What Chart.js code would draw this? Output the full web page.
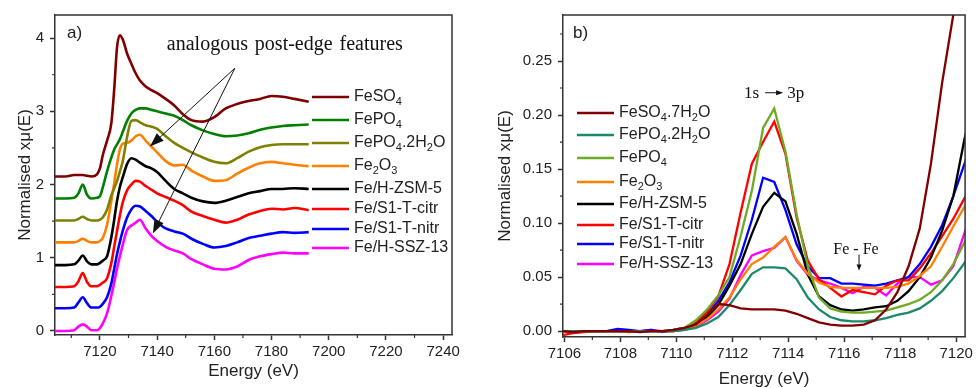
<!DOCTYPE html>
<html>
<head>
<meta charset="utf-8">
<script src="https://cdn.jsdelivr.net/npm/chart.js@4.4.0/dist/chart.umd.min.js"></script>
<style>
  html, body { margin: 0; padding: 0; background: #fff; }
  #wrap { position: relative; width: 976px; height: 388px; overflow: hidden; }
  #chartA { position: absolute; left: 0; top: 0; }
  #chartB { position: absolute; left: 480px; top: 0; }
</style>
</head>
<body>
<div id="wrap">
  <canvas id="chartA" width="480" height="388"></canvas>
  <canvas id="chartB" width="496" height="388"></canvas>
</div>
<script>
// ---- panel a) : full XANES spectra, offset for clarity ----
const energyA = [7104, 7108, 7111, 7112.5, 7114, 7115.5, 7117, 7119, 7120, 7121, 7122.5, 7124, 7125, 7126, 7127, 7128, 7129.5, 7131, 7132.5, 7134,
                 7136, 7138, 7140, 7143, 7146, 7149, 7152, 7156, 7160, 7164, 7168, 7172, 7176, 7180, 7184, 7188, 7193];
const feso4A    = [2.11, 2.11, 2.13, 2.13, 2.13, 2.12, 2.11, 2.14, 2.22, 2.40, 2.60, 2.84, 3.30, 3.88, 4.04, 3.98, 3.79, 3.65, 3.52, 3.42,
                   3.34, 3.29, 3.25, 3.17, 3.08, 2.96, 2.88, 2.86, 2.92, 3.04, 3.10, 3.14, 3.17, 3.21, 3.20, 3.17, 3.13];
const fepo4A    = [1.81, 1.81, 1.82, 1.88, 2.00, 1.86, 1.81, 1.82, 1.84, 1.96, 2.18, 2.37, 2.48, 2.55, 2.62, 2.72, 2.87, 2.97, 3.02, 3.04,
                   3.04, 3.02, 3.00, 2.97, 2.94, 2.88, 2.81, 2.74, 2.69, 2.66, 2.67, 2.70, 2.75, 2.78, 2.80, 2.81, 2.82];
const fepo4h2oA = [1.51, 1.51, 1.51, 1.53, 1.56, 1.53, 1.51, 1.51, 1.52, 1.55, 1.66, 1.85, 1.95, 2.05, 2.18, 2.32, 2.65, 2.87, 2.88, 2.85,
                   2.81, 2.79, 2.76, 2.66, 2.57, 2.50, 2.44, 2.37, 2.31, 2.29, 2.36, 2.45, 2.51, 2.54, 2.55, 2.55, 2.55];
const fe2o3A    = [1.21, 1.21, 1.21, 1.23, 1.26, 1.23, 1.21, 1.21, 1.23, 1.27, 1.45, 1.78, 2.02, 2.28, 2.48, 2.56, 2.57, 2.60, 2.66, 2.68,
                   2.60, 2.52, 2.44, 2.32, 2.26, 2.27, 2.19, 2.11, 2.05, 2.06, 2.15, 2.23, 2.29, 2.31, 2.29, 2.27, 2.25];
const zsm5A     = [0.90, 0.90, 0.91, 0.96, 1.03, 0.95, 0.91, 0.91, 0.93, 0.96, 1.02, 1.28, 1.52, 1.78, 1.97, 2.10, 2.28, 2.36, 2.34, 2.30,
                   2.25, 2.22, 2.17, 2.05, 1.94, 1.88, 1.82, 1.77, 1.75, 1.78, 1.83, 1.88, 1.91, 1.94, 1.94, 1.95, 1.94];
const citrA     = [0.60, 0.60, 0.61, 0.68, 0.79, 0.67, 0.61, 0.61, 0.63, 0.66, 0.72, 0.93, 1.15, 1.37, 1.58, 1.76, 1.92, 2.00, 2.05, 2.04,
                   1.98, 1.93, 1.88, 1.83, 1.78, 1.72, 1.63, 1.57, 1.52, 1.48, 1.52, 1.59, 1.64, 1.67, 1.66, 1.68, 1.65];
const nitrA     = [0.31, 0.31, 0.32, 0.39, 0.46, 0.38, 0.32, 0.32, 0.33, 0.37, 0.46, 0.65, 0.85, 1.05, 1.22, 1.37, 1.55, 1.66, 1.71, 1.70,
                   1.64, 1.57, 1.49, 1.40, 1.36, 1.33, 1.26, 1.19, 1.14, 1.16, 1.21, 1.27, 1.30, 1.33, 1.35, 1.34, 1.35];
const ssz13A    = [0.00, 0.00, 0.01, 0.06, 0.09, 0.06, 0.01, 0.01, 0.04, 0.10, 0.24, 0.48, 0.66, 0.85, 1.02, 1.18, 1.38, 1.44, 1.48, 1.52,
                   1.40, 1.30, 1.23, 1.15, 1.10, 1.06, 0.98, 0.91, 0.85, 0.84, 0.88, 0.97, 1.02, 1.05, 1.07, 1.06, 1.06];
const namesA  = ['FeSO_4', 'FePO_4', 'FePO_4.2H_2O', 'Fe_2O_3', 'Fe/H-ZSM-5', 'Fe/S1-T-citr', 'Fe/S1-T-nitr', 'Fe/H-SSZ-13'];
const colorsA = ['#800000', '#008000', '#808000', '#ff8000', '#000000', '#ff0000', '#0000ff', '#ff00ff'];
const ticksXA = [7120, 7140, 7160, 7180, 7200, 7220, 7240];
const minorXA = [7110, 7130, 7150, 7170, 7190, 7210, 7230];
const ticksYA = [0, 1, 2, 3, 4];
const minorYA = [0.5, 1.5, 2.5, 3.5];

// ---- panel b) : pre-edge region ----
const energyB = [7105.9, 7106.3, 7106.7, 7107.1, 7107.5, 7107.9, 7108.3, 7108.7, 7109.1, 7109.5, 7109.9, 7110.3, 7110.7, 7111.1, 7111.5, 7111.9,
                 7112.3, 7112.7, 7113.1, 7113.5, 7113.9, 7114.3, 7114.7, 7115.1, 7115.5, 7115.9, 7116.3, 7116.7, 7117.1, 7117.5, 7117.9,
                 7118.3, 7118.7, 7119.1, 7119.5, 7119.9, 7120.3, 7120.7];
const feso4B    = [0.000, -0.001, 0.000, 0.000, 0.000, 0.000, 0.000, -0.001, 0.000, 0.000, 0.001, 0.003, 0.006, 0.015, 0.025, 0.024,
                   0.021, 0.020, 0.020, 0.020, 0.019, 0.016, 0.012, 0.008, 0.006, 0.005, 0.005, 0.006, 0.010, 0.020, 0.036,
                   0.060, 0.095, 0.155, 0.230, 0.293, 0.360, 0.420];
const fepo4h2oB = [0.000, 0.000, 0.000, 0.000, 0.000, 0.000, 0.000, 0.000, 0.000, 0.000, 0.000, 0.001, 0.003, 0.007, 0.013, 0.024,
                   0.038, 0.053, 0.059, 0.059, 0.058, 0.048, 0.031, 0.020, 0.013, 0.010, 0.009, 0.009, 0.010, 0.012, 0.015,
                   0.017, 0.021, 0.028, 0.037, 0.049, 0.063, 0.075];
const fepo4B    = [0.000, 0.000, 0.000, 0.000, 0.000, 0.000, 0.000, 0.000, 0.000, 0.000, 0.001, 0.003, 0.010, 0.020, 0.033, 0.050,
                   0.088, 0.130, 0.188, 0.206, 0.166, 0.108, 0.060, 0.031, 0.021, 0.018, 0.017, 0.017, 0.018, 0.019, 0.022,
                   0.025, 0.029, 0.036, 0.047, 0.062, 0.082, 0.100];
const fe2o3B    = [0.000, 0.000, 0.000, 0.000, 0.000, 0.000, 0.000, 0.000, 0.000, 0.000, 0.000, 0.002, 0.005, 0.011, 0.020, 0.031,
                   0.048, 0.062, 0.068, 0.078, 0.087, 0.066, 0.053, 0.045, 0.041, 0.040, 0.040, 0.040, 0.040, 0.040, 0.041,
                   0.044, 0.051, 0.060, 0.078, 0.097, 0.115, 0.135];
const zsm5B     = [0.000, 0.000, 0.000, 0.000, 0.000, 0.000, 0.000, 0.000, 0.000, 0.000, 0.000, 0.002, 0.006, 0.013, 0.024, 0.042,
                   0.062, 0.090, 0.115, 0.128, 0.120, 0.090, 0.052, 0.032, 0.024, 0.020, 0.019, 0.020, 0.022, 0.023, 0.028,
                   0.037, 0.050, 0.068, 0.093, 0.125, 0.178, 0.220];
const citrB     = [-0.004, -0.002, -0.001, 0.000, 0.000, 0.000, -0.001, 0.000, 0.000, 0.000, 0.001, 0.003, 0.008, 0.018, 0.032, 0.062,
                   0.110, 0.155, 0.175, 0.194, 0.164, 0.105, 0.065, 0.048, 0.040, 0.032, 0.038, 0.036, 0.034, 0.042, 0.047,
                   0.047, 0.058, 0.072, 0.088, 0.104, 0.123, 0.140];
const nitrB     = [0.000, 0.000, 0.000, 0.000, 0.000, 0.002, 0.001, 0.000, 0.001, -0.001, 0.001, 0.003, 0.007, 0.015, 0.028, 0.045,
                   0.070, 0.103, 0.142, 0.138, 0.112, 0.080, 0.060, 0.049, 0.049, 0.044, 0.044, 0.043, 0.042, 0.044, 0.047,
                   0.050, 0.062, 0.078, 0.098, 0.125, 0.155, 0.185];
const ssz13B    = [0.000, 0.000, 0.000, 0.000, 0.000, 0.000, 0.000, 0.000, 0.001, 0.000, 0.000, 0.001, 0.004, 0.010, 0.018, 0.030,
                   0.052, 0.070, 0.074, 0.077, 0.087, 0.065, 0.052, 0.047, 0.044, 0.040, 0.035, 0.041, 0.040, 0.033, 0.044,
                   0.050, 0.050, 0.043, 0.047, 0.060, 0.091, 0.120];
const namesB  = ['FeSO_4.7H_2O', 'FePO_4.2H_2O', 'FePO_4', 'Fe_2O_3', 'Fe/H-ZSM-5', 'Fe/S1-T-citr', 'Fe/S1-T-nitr', 'Fe/H-SSZ-13'];
const colorsB = ['#800000', '#1b8a6b', '#6dab22', '#ff8000', '#000000', '#ff0000', '#0000ff', '#ff00ff'];
const ticksXB = [7106, 7108, 7110, 7112, 7114, 7116, 7118, 7120];
const minorXB = [7107, 7109, 7111, 7113, 7115, 7117, 7119];
const ticksYB = [0, 0.05, 0.10, 0.15, 0.20, 0.25];
const minorYB = [0.025, 0.075, 0.125, 0.175, 0.225, 0.275];

const FONT = '"Liberation Sans", Arial, Helvetica, sans-serif';
const SERIF = '"Liberation Serif", "Times New Roman", serif';
Chart.defaults.font.family = FONT;
Chart.defaults.color = '#222';

function pts(xs, ys) { return xs.map((x, i) => ({ x: x, y: ys[i] })); }
// "_4" -> subscript 4
function subText(s) { return s.replace(/_(\d)/g, (m, d) => String.fromCharCode(0x2080 + Number(d))); }

function drawRich(ctx, text, x, y, size) {
  let cx = x;
  for (let i = 0; i < text.length; i++) {
    let ch = text[i], sub = false;
    if (ch === '_') { ch = text[++i]; sub = true; }
    ctx.font = (sub ? Math.round(size * 0.7) : size) + 'px ' + FONT;
    ctx.fillText(ch, cx, sub ? y + size * 0.3 : y);
    cx += ctx.measureText(ch).width;
  }
}

function arrow(ctx, x1, y1, x2, y2, head, half) {
  const a = Math.atan2(y2 - y1, x2 - x1), c = Math.cos(a), s = Math.sin(a);
  ctx.beginPath();
  ctx.moveTo(x1, y1);
  ctx.lineTo(x2 - head * 0.7 * c, y2 - head * 0.7 * s);
  ctx.stroke();
  ctx.beginPath();
  ctx.moveTo(x2, y2);
  ctx.lineTo(x2 - head * c + half * s, y2 - head * s - half * c);
  ctx.lineTo(x2 - head * c - half * s, y2 - head * s + half * c);
  ctx.closePath();
  ctx.fill();
}

const deco = {
  id: 'deco',
  afterDatasetsDraw(chart, args, o) {
    const { ctx, chartArea: a } = chart;
    const sx = chart.scales.x, sy = chart.scales.y;
    ctx.save();
    ctx.strokeStyle = '#333';
    ctx.lineWidth = 1.5;
    ctx.beginPath();
    ctx.moveTo(a.left, a.top); ctx.lineTo(a.right, a.top); ctx.lineTo(a.right, a.bottom);
    ctx.stroke();

    ctx.lineWidth = 1.2;
    ctx.beginPath();
    o.minorX.forEach(v => { const p = sx.getPixelForValue(v); ctx.moveTo(p, a.bottom); ctx.lineTo(p, a.bottom + 3); });
    o.minorY.forEach(v => { const p = sy.getPixelForValue(v); ctx.moveTo(a.left, p); ctx.lineTo(a.left - 3, p); });
    ctx.stroke();

    // legend
    const L = o.legend;
    ctx.textBaseline = 'middle';
    ctx.textAlign = 'left';
    chart.data.datasets.forEach((ds, i) => {
      const yy = L.ys[i];
      ctx.strokeStyle = ds.borderColor;
      ctx.lineWidth = 2.5;
      ctx.beginPath(); ctx.moveTo(L.x1, yy); ctx.lineTo(L.x2, yy); ctx.stroke();
      ctx.fillStyle = '#222';
      drawRich(ctx, o.names[i], L.tx, yy, 16);
    });

    ctx.fillStyle = '#222';
    ctx.font = '17px ' + FONT;
    ctx.fillText(o.letter[0], o.letter[1], o.letter[2]);

    ctx.strokeStyle = '#111';
    ctx.fillStyle = '#111';
    ctx.lineWidth = 1;
    o.draw(ctx, v => sx.getPixelForValue(v), v => sy.getPixelForValue(v));
    ctx.restore();
  }
};

function makeChart(id, cfg) {
  const sets = cfg.series.map((vals, i) => ({
    label: subText(cfg.names[i]),
    data: pts(cfg.energy, vals),
    borderColor: cfg.colors[i],
    borderWidth: cfg.lw,
    pointRadius: 0,
    fill: false,
    tension: cfg.smooth ? 0.4 : 0,
    cubicInterpolationMode: cfg.smooth ? 'monotone' : 'default'
  }));
  return new Chart(document.getElementById(id), {
    type: 'line',
    data: { datasets: sets },
    plugins: [deco],
    options: {
      responsive: false,
      animation: false,
      layout: { padding: { left: 0, right: cfg.padRight, top: 13, bottom: 0 } },
      plugins: {
        legend: { display: false },
        tooltip: { enabled: false },
        deco: cfg.deco
      },
      scales: {
        x: {
          type: 'linear', min: cfg.xmin, max: cfg.xmax,
          afterBuildTicks: s => { s.ticks = cfg.ticksX.map(v => ({ value: v })); },
          afterFit: s => { s.height = cfg.xh; },
          grid: { display: true, drawOnChartArea: false, tickLength: 5, tickColor: '#333', tickWidth: 1.5 },
          border: { display: true, color: '#333', width: 1.5 },
          ticks: { font: { size: 15 }, color: '#222', padding: 3, maxRotation: 0, autoSkip: false, callback: v => String(v) },
          title: { display: true, text: 'Energy (eV)', color: '#222', font: { size: 17, lineHeight: 1 }, padding: { top: 0, bottom: cfg.titleBottom } }
        },
        y: {
          type: 'linear', min: cfg.ymin, max: cfg.ymax,
          afterBuildTicks: s => { s.ticks = cfg.ticksY.map(v => ({ value: v })); },
          afterFit: s => { s.width = cfg.yw; },
          grid: { display: true, drawOnChartArea: false, tickLength: 5, tickColor: '#333', tickWidth: 1.5 },
          border: { display: true, color: '#333', width: 1.5 },
          ticks: { font: { size: 15 }, color: '#222', padding: 6, autoSkip: false, callback: cfg.yfmt },
          title: { display: true, text: 'Normalised xμ(E)', color: '#222', font: { size: 17, lineHeight: 1 }, padding: { top: 17, bottom: 0 } }
        }
      }
    }
  });
}

makeChart('chartA', {
  energy: energyA,
  series: [feso4A, fepo4A, fepo4h2oA, fe2o3A, zsm5A, citrA, nitrA, ssz13A],
  names: namesA, colors: colorsA, lw: 2.6, smooth: true,
  xmin: 7104.3, xmax: 7243.1, ymin: -0.055, ymax: 4.316,
  ticksX: ticksXA, ticksY: ticksYA, yfmt: v => String(v),
  padRight: 28, xh: 53, yw: 55, titleBottom: 8,
  deco: {
    minorX: minorXA, minorY: minorYA, names: namesA,
    legend: { x1: 312, x2: 349, tx: 354, ys: [97, 120, 143, 166, 189, 209, 229, 248] },
    letter: ['a)', 67, 33],
    draw(ctx, X, Y) {
      ctx.font = '20px ' + SERIF;
      ctx.textBaseline = 'alphabetic';
      ctx.textAlign = 'left';
      const txt = 'analogous post-edge features';
      const w = ctx.measureText(txt).width;
      if ('wordSpacing' in ctx && w < 236) ctx.wordSpacing = ((236 - w) / 2) + 'px';
      ctx.fillText(txt, X(7143.4), Y(3.84));
      ctx.wordSpacing = '0px';
      arrow(ctx, X(7167.2), Y(3.59), X(7137.5), Y(2.52), 14, 5);
      arrow(ctx, X(7167.2), Y(3.59), X(7138.5), Y(1.33), 14, 5);
    }
  }
});

makeChart('chartB', {
  energy: energyB,
  series: [feso4B, fepo4h2oB, fepo4B, fe2o3B, zsm5B, citrB, nitrB, ssz13B],
  names: namesB, colors: colorsB, lw: 2.3, smooth: false,
  xmin: 7105.95, xmax: 7120.32, ymin: -0.0055, ymax: 0.2926,
  ticksX: ticksXB, ticksY: ticksYB, yfmt: v => v.toFixed(2),
  padRight: 8, xh: 51, yw: 83, titleBottom: 0,
  deco: {
    minorX: minorXB, minorY: minorYB, names: namesB,
    legend: { x1: 97, x2: 134, tx: 139, ys: [113, 135, 158, 182, 204, 225, 244, 264] },
    letter: ['b)', 93, 33],
    draw(ctx, X, Y) {
      ctx.font = '17px ' + SERIF;
      ctx.textBaseline = 'alphabetic';
      ctx.textAlign = 'left';
      const x0 = X(7112.42), y0 = Y(0.216);
      ctx.fillText('1s', x0, y0);
      const ax = x0 + ctx.measureText('1s').width + 6;
      arrow(ctx, ax, y0 - 5, ax + 18, y0 - 5, 7, 2.5);
      ctx.fillText('3p', ax + 22, y0);
      ctx.font = '16px ' + SERIF;
      ctx.fillText('Fe - Fe', X(7115.61), Y(0.0717));
      arrow(ctx, X(7116.53), Y(0.0708), X(7116.53), Y(0.056), 6, 2.5);
    }
  }
});
</script>
</body>
</html>
